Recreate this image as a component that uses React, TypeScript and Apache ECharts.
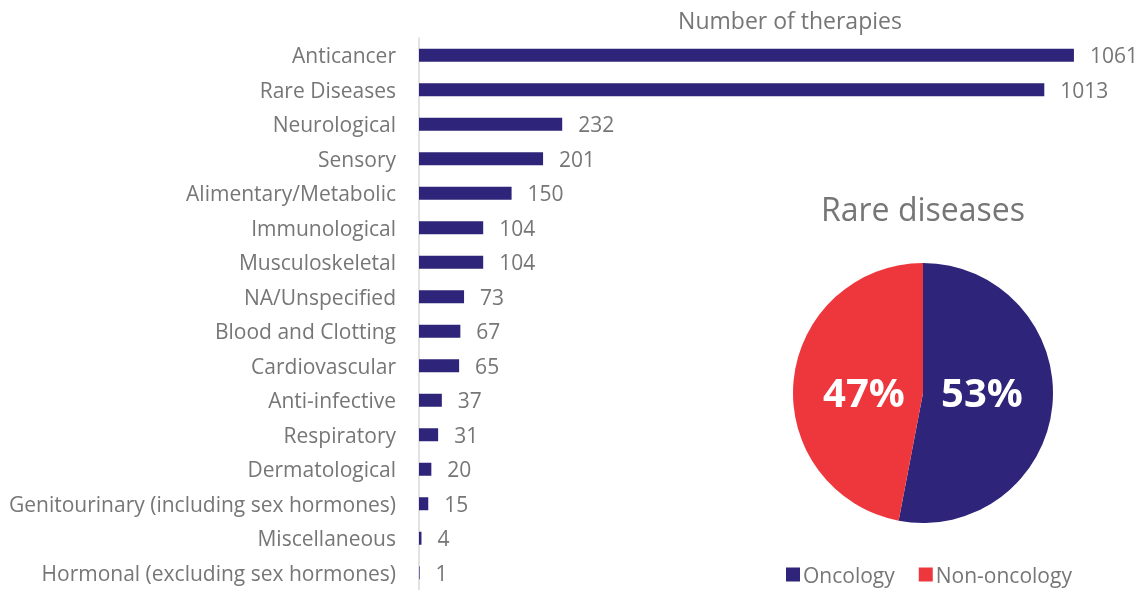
import React, { useEffect, useRef } from "react";
import * as echarts from "echarts";

const categories = [
  "Anticancer",
  "Rare Diseases",
  "Neurological",
  "Sensory",
  "Alimentary/Metabolic",
  "Immunological",
  "Musculoskeletal",
  "NA/Unspecified",
  "Blood and Clotting",
  "Cardiovascular",
  "Anti-infective",
  "Respiratory",
  "Dermatological",
  "Genitourinary (including sex hormones)",
  "Miscellaneous",
  "Hormonal (excluding sex hormones)",
];
const therapyCounts = [1061, 1013, 232, 201, 150, 104, 104, 73, 67, 65, 37, 31, 20, 15, 4, 1];

const pieNames = ["Oncology", "Non-oncology"];
const pieValues = [53, 47];

const NAVY = "#2E2479";
const RED = "#EE373C";
const GRAY = "#767676";
const FONT = "'Open Sans', 'Noto Sans', sans-serif";
const PIE_CX = 923;
const PIE_CY = 393;

export default function App() {
  const ref = useRef<HTMLDivElement>(null);
  useEffect(() => {
    if (!ref.current) return;
    const chart = echarts.init(ref.current, null, { renderer: "svg" });
    chart.setOption({
      animation: false,
      textStyle: { fontFamily: FONT },
      graphic: [
        {
          type: "text",
          x: 790,
          y: 20,
          style: {
            text: "Number of therapies",
            fill: GRAY,
            font: `23px ${FONT}`,
            textAlign: "center",
            textVerticalAlign: "middle",
          },
        },
        {
          type: "text",
          x: PIE_CX,
          y: 208,
          style: {
            text: "Rare diseases",
            fill: GRAY,
            font: `32px ${FONT}`,
            textAlign: "center",
            textVerticalAlign: "middle",
          },
        },
      ],
      grid: { left: 419, right: 42, top: 38, bottom: -2, containLabel: false },
      xAxis: { type: "value", min: 0, max: 1100, show: false },
      yAxis: {
        type: "category",
        inverse: true,
        data: categories,
        axisLine: { show: true, lineStyle: { color: "#D9D9D9", width: 1.5 } },
        axisTick: { show: false },
        axisLabel: { color: GRAY, fontSize: 21, margin: 23, fontFamily: FONT },
        splitLine: { show: false },
      },
      legend: {
        data: pieNames,
        left: 781,
        top: 559,
        icon: "rect",
        itemWidth: 14,
        itemHeight: 14,
        itemGap: 24,
        textStyle: { color: GRAY, fontSize: 21, fontFamily: FONT, padding: [0, 0, 0, -2] },
      },
      series: [
        {
          type: "bar",
          data: therapyCounts,
          barWidth: 13,
          itemStyle: { color: NAVY },
          label: {
            show: true,
            position: "right",
            distance: 16,
            color: GRAY,
            fontSize: 21,
            fontFamily: FONT,
          },
        },
        {
          type: "pie",
          center: [PIE_CX, PIE_CY],
          radius: 130,
          startAngle: 90,
          clockwise: true,
          data: pieNames.map((n, i) => ({
            name: n,
            value: pieValues[i],
            itemStyle: { color: i === 0 ? NAVY : RED },
          })),
          label: {
            show: true,
            position: "inside",
            formatter: "{c}%",
            color: "#FFFFFF",
            fontSize: 40,
            fontWeight: "bold",
            fontFamily: FONT,
          },
          labelLayout: (p: any) => {
            const cx = p.rect.x + p.rect.width / 2;
            const side = cx >= PIE_CX ? 1 : -1;
            return {
              x: PIE_CX + side * 59,
              y: PIE_CY - 2,
              align: "center",
              verticalAlign: "middle",
            };
          },
          labelLine: { show: false },
          emphasis: { disabled: true },
        },
      ],
    });
    return () => chart.dispose();
  }, []);
  return (
    <div
      ref={ref}
      style={{ position: "fixed", left: 0, top: 0, width: 1140, height: 590 }}
    />
  );
}
